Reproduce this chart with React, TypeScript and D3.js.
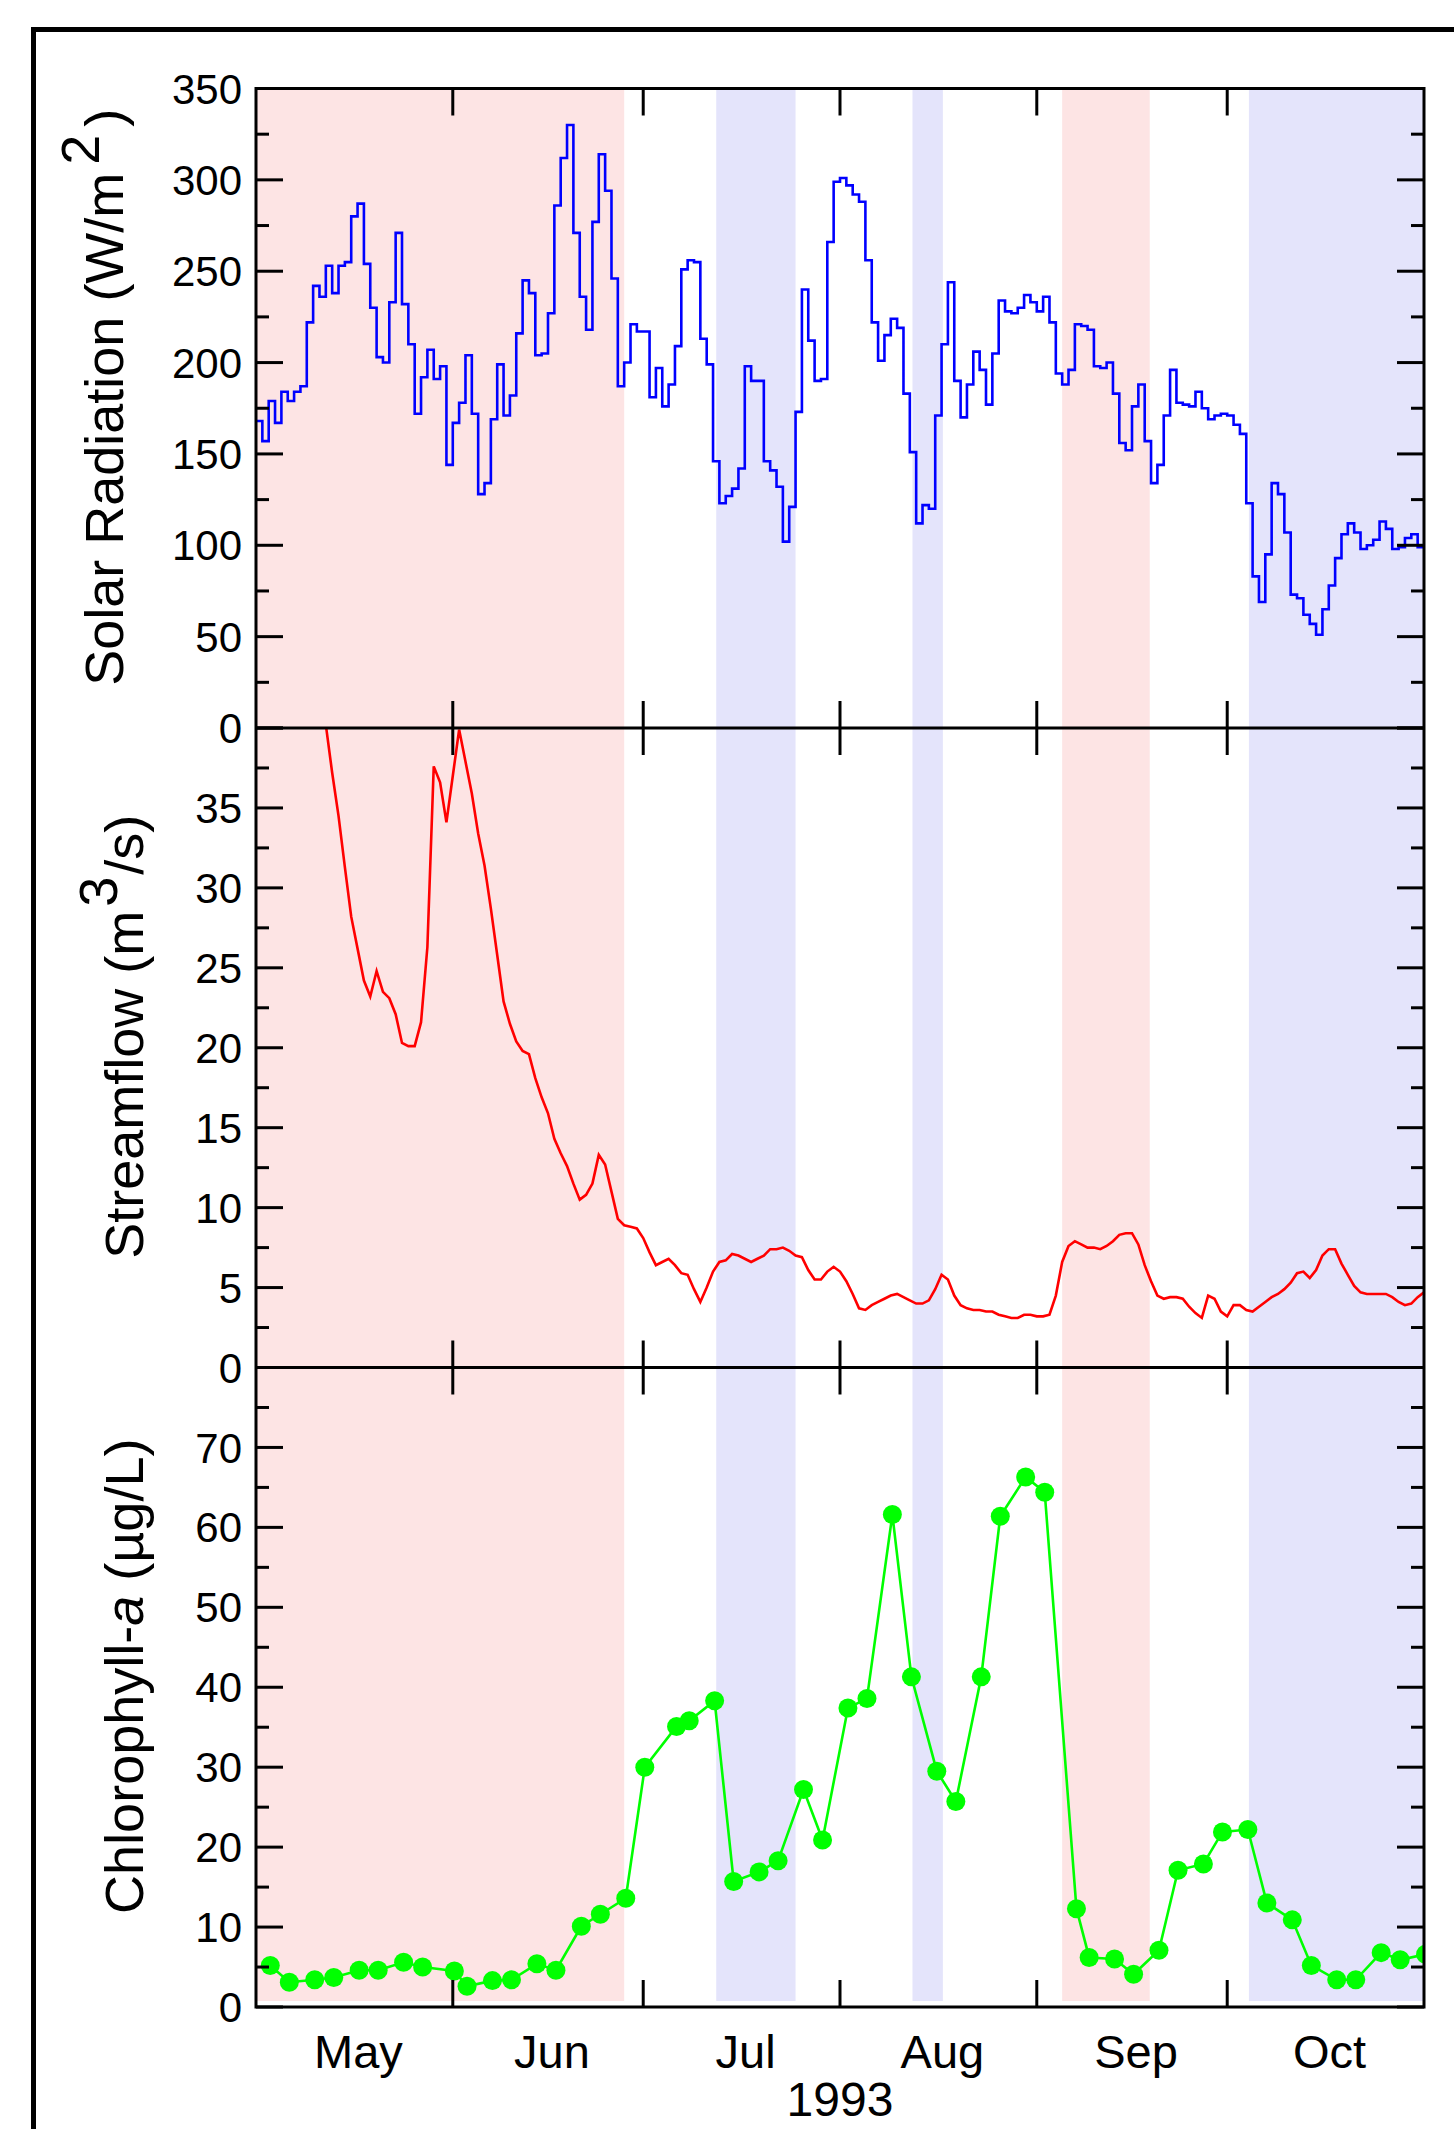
import React from "react";
import * as d3 from "d3";

const WIDTH = 1454;
const HEIGHT = 2129;
const LEFT = 256;
const RIGHT = 1424;
const TOP = 88.5;
const PANEL_H = 639.5;
const BAND_BOTTOM = 2001;
const FONT = "'Liberation Sans', Arial, Helvetica, sans-serif";

const START = "1993-05-01";
const END = "1993-11-01";
const MONTHS = ["May", "Jun", "Jul", "Aug", "Sep", "Oct"];
const YEAR = "1993";

// shaded periods (pink = high flow, blue = low light)
const PINK_PERIODS = [
  ["1993-05-01", "1993-06-28"],
  ["1993-09-05", "1993-09-18T19:00"],
];
const BLUE_PERIODS = [
  ["1993-07-12T12:00", "1993-07-25"],
  ["1993-08-12T10:00", "1993-08-17T05:00"],
  ["1993-10-04T10:00", "1993-11-01"],
];

// daily mean solar radiation (W/m2), from May 1
const SOLAR = [
  168, 157, 179, 167, 184, 179, 184, 187, 222, 242, 236, 253, 238, 253, 255, 280,
  287, 254, 230, 203, 200, 233, 271, 232, 210, 172, 192, 207, 191, 198, 144, 167,
  178, 204, 172, 128, 134, 169, 199, 171, 182, 216, 245, 238, 204, 205, 227, 286,
  312, 330, 271, 236, 218, 277, 314, 294, 246, 187, 200, 221, 217, 217, 181, 197,
  176, 188, 209, 251, 256, 255, 213, 199, 146, 123, 127, 131, 142, 198, 190, 190,
  146, 141, 132, 102, 121, 173, 240, 212, 190, 191, 266, 299, 301, 297, 292, 288,
  256, 222, 201, 215, 224, 219, 183, 151, 112, 122, 120, 171, 210, 244, 190, 170,
  188, 206, 196, 177, 205, 234, 228, 227, 230, 237, 233, 228, 236, 222, 194, 188,
  196, 221, 220, 218, 198, 197, 200, 183, 156, 152, 176, 188, 157, 134, 144, 171,
  196, 178, 177, 176, 184, 175, 169, 171, 172, 171, 166, 161, 123, 83, 69, 95,
  134, 128, 107, 73, 71, 62, 57, 51, 65, 78, 93, 106, 112, 107, 98, 100,
  103, 113, 109, 98, 99, 104, 106, 99,
];

// daily streamflow (m3/s), from May 11
const FLOW_START = "1993-05-11";
const FLOW = [
  44.0, 40.2, 37.2, 34.5, 31.3, 28.2, 26.2, 24.2, 23.2, 24.8, 23.5, 23.1, 22.1, 20.3, 20.1, 20.1,
  21.6, 26.3, 37.6, 36.6, 34.1, 37.0, 39.9, 37.9, 35.9, 33.4, 31.4, 28.7, 25.8, 22.9, 21.5, 20.4,
  19.8, 19.6, 18.1, 16.9, 15.9, 14.3, 13.4, 12.6, 11.5, 10.5, 10.8, 11.5, 13.3, 12.7, 11.0, 9.3,
  8.9, 8.8, 8.7, 8.1, 7.2, 6.4, 6.6, 6.8, 6.4, 5.9, 5.8, 4.9, 4.1, 5.0, 6.0, 6.6,
  6.7, 7.1, 7.0, 6.8, 6.6, 6.8, 7.0, 7.4, 7.4, 7.5, 7.3, 7.0, 6.9, 6.1, 5.5, 5.5,
  6.0, 6.3, 6.0, 5.4, 4.6, 3.7, 3.6, 3.9, 4.1, 4.3, 4.5, 4.6, 4.4, 4.2, 4.0, 4.0,
  4.2, 4.9, 5.8, 5.5, 4.5, 3.9, 3.7, 3.6, 3.6, 3.5, 3.5, 3.3, 3.2, 3.1, 3.1, 3.3,
  3.3, 3.2, 3.2, 3.3, 4.5, 6.6, 7.6, 7.9, 7.7, 7.5, 7.5, 7.4, 7.6, 7.9, 8.3, 8.4,
  8.4, 7.7, 6.4, 5.4, 4.5, 4.3, 4.4, 4.4, 4.3, 3.8, 3.4, 3.1, 4.5, 4.3, 3.5, 3.2,
  3.9, 3.9, 3.6, 3.5, 3.8, 4.1, 4.4, 4.6, 4.9, 5.3, 5.9, 6.0, 5.6, 6.1, 7.0, 7.4,
  7.4, 6.5, 5.8, 5.1, 4.7, 4.6, 4.6, 4.6, 4.6, 4.4, 4.1, 3.9, 4.0, 4.4, 4.7,
];

// chlorophyll-a samples (ug/L), Monday / Thursday sampling
const CHL_DATES = [
  "1993-05-03", "1993-05-06", "1993-05-10", "1993-05-13", "1993-05-17", "1993-05-20",
  "1993-05-24", "1993-05-27", "1993-06-01", "1993-06-03", "1993-06-07", "1993-06-10",
  "1993-06-14", "1993-06-17", "1993-06-21", "1993-06-24", "1993-06-28", "1993-07-01",
  "1993-07-06", "1993-07-08", "1993-07-12", "1993-07-15", "1993-07-19", "1993-07-22",
  "1993-07-26", "1993-07-29", "1993-08-02", "1993-08-05", "1993-08-09", "1993-08-12",
  "1993-08-16", "1993-08-19", "1993-08-23", "1993-08-26", "1993-08-30", "1993-09-02",
  "1993-09-07", "1993-09-09", "1993-09-13", "1993-09-16", "1993-09-20", "1993-09-23",
  "1993-09-27", "1993-09-30", "1993-10-04", "1993-10-07", "1993-10-11", "1993-10-14",
  "1993-10-18", "1993-10-21", "1993-10-25", "1993-10-28", "1993-11-01",
];
const CHL = [
  5.2, 3.1, 3.4, 3.7, 4.6, 4.6, 5.6, 5.0, 4.5, 2.6, 3.3, 3.4, 5.4, 4.6, 10.1, 11.6,
  13.6, 30.0, 35.1, 35.8, 38.3, 15.7, 16.9, 18.3, 27.2, 20.9, 37.4, 38.6, 61.6, 41.3,
  29.5, 25.7, 41.3, 61.4, 66.3, 64.4, 12.3, 6.2, 6.0, 4.1, 7.1, 17.1, 17.9, 21.9,
  22.2, 13.0, 10.9, 5.2, 3.4, 3.4, 6.8, 5.9, 6.6,
];

const SOLAR_LABELS = [0, 50, 100, 150, 200, 250, 300, 350];
const FLOW_LABELS = [0, 5, 10, 15, 20, 25, 30, 35];
const CHL_LABELS = [0, 10, 20, 30, 40, 50, 60, 70];

const parseTime = d3.utcParse("%Y-%m-%dT%H:%M");
const parse = (s: string) => parseTime(s.includes("T") ? s : s + "T00:00") as Date;

const MAJOR_LEN = 27;
const MINOR_LEN = 13;

type PanelProps = {
  index: number;
  y: d3.ScaleLinear<number, number>;
  labels: number[];
  major: number;
  max: number;
  x: d3.ScaleTime<number, number>;
  monthTicks: Date[];
};

const PanelAxes = ({ index, y, labels, major, max, x, monthTicks }: PanelProps) => {
  const top = TOP + index * PANEL_H;
  const bottom = top + PANEL_H;
  const majors = d3.range(0, max + 1e-6, major);
  const minors = d3.range(major / 2, max, major);
  return (
    <g stroke="#000" strokeWidth={3}>
      {majors.map((v) => (
        <g key={"M" + v}>
          <line x1={LEFT} x2={LEFT + MAJOR_LEN} y1={y(v)} y2={y(v)} />
          <line x1={RIGHT - MAJOR_LEN} x2={RIGHT} y1={y(v)} y2={y(v)} />
        </g>
      ))}
      {minors.map((v) => (
        <g key={"m" + v}>
          <line x1={LEFT} x2={LEFT + MINOR_LEN} y1={y(v)} y2={y(v)} />
          <line x1={RIGHT - MINOR_LEN} x2={RIGHT} y1={y(v)} y2={y(v)} />
        </g>
      ))}
      {monthTicks.map((d) => (
        <g key={d.toISOString()}>
          <line x1={x(d)} x2={x(d)} y1={top} y2={top + MAJOR_LEN} />
          <line x1={x(d)} x2={x(d)} y1={bottom} y2={bottom - MAJOR_LEN} />
        </g>
      ))}
      <g stroke="none" fill="#000" fontSize={42} textAnchor="end" fontFamily={FONT}>
        {labels.map((v) => (
          <text key={"t" + v} x={242} y={y(v)} dy="0.36em">
            {v}
          </text>
        ))}
      </g>
    </g>
  );
};

const App = () => {
  const start = parse(START);
  const end = parse(END);
  const x = d3.scaleUtc().domain([start, end]).range([LEFT, RIGHT]);

  const ySolar = d3.scaleLinear().domain([0, 350]).range([TOP + PANEL_H, TOP]);
  const yFlow = d3.scaleLinear().domain([0, 40]).range([TOP + 2 * PANEL_H, TOP + PANEL_H]);
  const yChl = d3.scaleLinear().domain([0, 80]).range([TOP + 3 * PANEL_H, TOP + 2 * PANEL_H]);

  const solarData = SOLAR.map((v, i) => ({ date: d3.utcDay.offset(start, i), v }));
  solarData.push({ date: end, v: SOLAR[SOLAR.length - 1] });
  const flowStart = parse(FLOW_START);
  const flowData = FLOW.map((v, i) => ({ date: d3.utcDay.offset(flowStart, i), v }));
  // samples taken in the morning
  const chlData = CHL.map((v, i) => ({ date: d3.utcHour.offset(parse(CHL_DATES[i]), 6), v }));

  const solarPath = d3
    .line<{ date: Date; v: number }>()
    .x((d) => x(d.date))
    .y((d) => ySolar(d.v))
    .curve(d3.curveStepAfter)(solarData);
  const flowPath = d3
    .line<{ date: Date; v: number }>()
    .x((d) => x(d.date))
    .y((d) => yFlow(d.v))(flowData);
  const chlPath = d3
    .line<{ date: Date; v: number }>()
    .x((d) => x(d.date))
    .y((d) => yChl(d.v))(chlData);

  const monthTicks = d3.utcMonth.range(d3.utcDay.offset(start, 1), end);
  const monthStarts = d3.utcMonth.range(start, end);

  const panels = [
    { y: ySolar, labels: SOLAR_LABELS, major: 50, max: 350 },
    { y: yFlow, labels: FLOW_LABELS, major: 5, max: 40 },
    { y: yChl, labels: CHL_LABELS, major: 10, max: 80 },
  ];

  const panelMid = (i: number) => TOP + i * PANEL_H + PANEL_H / 2 - 11;

  return (
    <svg
      width={WIDTH}
      height={HEIGHT}
      style={{ position: "absolute", left: 0, top: 0, background: "#fff" }}
      fontFamily={FONT}
    >
      <defs>
        {[0, 1, 2].map((i) => (
          <clipPath id={"clip" + i} key={i}>
            <rect x={LEFT} y={TOP + i * PANEL_H} width={RIGHT - LEFT} height={PANEL_H} />
          </clipPath>
        ))}
      </defs>
      <rect x={0} y={0} width={WIDTH} height={HEIGHT} fill="#fff" />

      {PINK_PERIODS.map(([a, b]) => (
        <rect key={a} x={x(parse(a))} width={x(parse(b)) - x(parse(a))} y={TOP} height={BAND_BOTTOM - TOP} fill="#fde4e4" />
      ))}
      {BLUE_PERIODS.map(([a, b]) => (
        <rect key={a} x={x(parse(a))} width={x(parse(b)) - x(parse(a))} y={TOP} height={BAND_BOTTOM - TOP} fill="#e4e4fb" />
      ))}

      <g clipPath="url(#clip0)">
        <path d={solarPath ?? ""} fill="none" stroke="#0000ff" strokeWidth={2.6} />
      </g>
      <g clipPath="url(#clip1)">
        <path d={flowPath ?? ""} fill="none" stroke="#ff0000" strokeWidth={2.6} />
      </g>
      <g clipPath="url(#clip2)">
        <path d={chlPath ?? ""} fill="none" stroke="#00ff00" strokeWidth={2.6} />
        {chlData.map((d, i) => (
          <circle key={i} cx={x(d.date)} cy={yChl(d.v)} r={9.5} fill="#00ff00" />
        ))}
      </g>

      {panels.map((p, i) => (
        <PanelAxes key={i} index={i} y={p.y} labels={p.labels} major={p.major} max={p.max} x={x} monthTicks={monthTicks} />
      ))}

      <g stroke="#000" strokeWidth={3} fill="none">
        <rect x={LEFT} y={TOP} width={RIGHT - LEFT} height={3 * PANEL_H} />
        <line x1={LEFT} x2={RIGHT} y1={TOP + PANEL_H} y2={TOP + PANEL_H} />
        <line x1={LEFT} x2={RIGHT} y1={TOP + 2 * PANEL_H} y2={TOP + 2 * PANEL_H} />
      </g>

      <g fontSize={54} textAnchor="middle" fill="#000">
        <text transform={`translate(123, ${panelMid(0)}) rotate(-90)`}>
          Solar Radiation (W/m
          <tspan dx={8} dy={-24}>2</tspan>
          <tspan dx={8} dy={24}>)</tspan>
        </text>
        <text transform={`translate(143, ${panelMid(1)}) rotate(-90)`}>
          Streamflow (m
          <tspan dx={4} dy={-26}>3</tspan>
          <tspan dx={2} dy={26}>/s)</tspan>
        </text>
        <text transform={`translate(143, ${panelMid(2)}) rotate(-90)`}>
          Chlorophyll-<tspan fontStyle="italic">a</tspan> (µg/L)
        </text>
      </g>

      <g fontSize={47} textAnchor="middle" fill="#000">
        {monthStarts.map((d, i) => (
          <text key={MONTHS[i]} x={(x(d) + x(d3.utcMonth.offset(d, 1))) / 2 + 4} y={2068}>
            {MONTHS[i]}
          </text>
        ))}
        <text x={(LEFT + RIGHT) / 2} y={2116} fontSize={48}>
          {YEAR}
        </text>
      </g>

      <rect x={33.5} y={29.5} width={1520} height={2220} fill="none" stroke="#000" strokeWidth={5} />
    </svg>
  );
};

export default App;
